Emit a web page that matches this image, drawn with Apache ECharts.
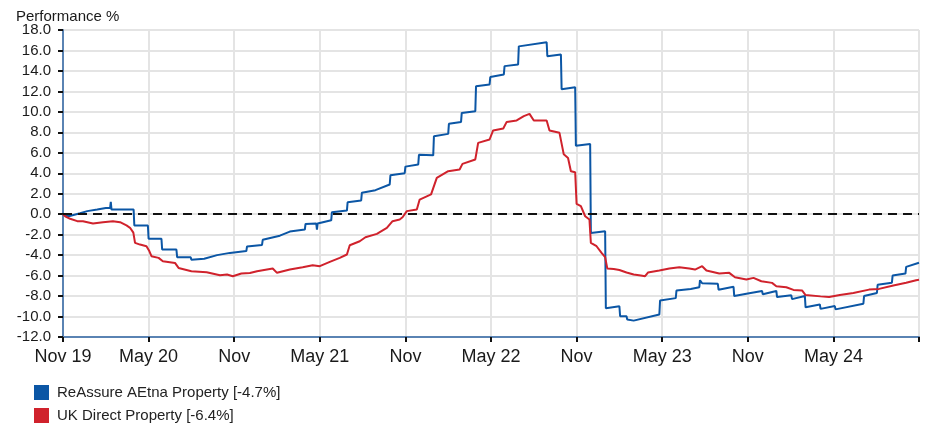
<!DOCTYPE html>
<html>
<head>
<meta charset="utf-8">
<script src="https://cdn.jsdelivr.net/npm/echarts@6/dist/echarts.min.js"></script>
<style>
html,body{margin:0;padding:0;background:#fff;}
#chart{width:930px;height:427px;}
</style>
</head>
<body>
<div id="chart"></div>
<script>
// x values are months elapsed since 1 Nov 2019
const xTickLabels = ['Nov 19','May 20','Nov','May 21','Nov','May 22','Nov','May 23','Nov','May 24',''];
const yTitle = 'Performance %';
const seriesNames = ['ReAssure AEtna Property [-4.7%]', 'UK Direct Property [-6.4%]'];

const blueMonths = [0,0.4,1.2,1.7,2.4,3.0,3.3,3.35,3.4,3.9,4.0,4.1,4.95,5.0,5.95,6.0,6.9,6.95,7.95,8.0,8.95,9.0,9.9,10.8,11.7,12.85,12.9,13.95,14.0,15.2,15.9,16.95,17.0,17.75,17.8,17.85,18.8,18.85,19.9,19.95,20.9,20.95,21.9,22.0,22.9,22.95,23.95,24.0,24.9,24.95,25.95,26.0,27.0,27.05,27.9,27.95,28.9,28.95,29.9,29.95,30.9,30.95,31.9,31.95,33.9,33.95,34.9,34.95,35.9,35.95,36.95,37.0,38.0,38.05,39.0,39.05,39.5,39.55,40.0,41.8,41.85,42.95,43.0,44.0,44.6,44.65,44.8,45.9,45.95,47.0,47.05,48.0,48.05,49.0,49.05,50.0,50.05,51.05,51.1,52.0,52.05,53.05,53.1,54.1,54.15,56.1,56.15,57.05,57.1,58.1,58.15,59.05,59.1,60];
const blueValues = [0,-0.2,0.1,0.3,0.45,0.6,0.6,1.2,0.45,0.45,0.3,0.45,0.45,-1.1,-1.1,-2.4,-2.4,-3.45,-3.45,-4.2,-4.2,-4.45,-4.35,-4.0,-3.78,-3.6,-3.15,-3.0,-2.5,-2.1,-1.7,-1.5,-0.95,-0.9,-1.5,-0.9,-0.6,0.2,0.35,1.17,1.34,2.1,2.35,2.45,2.9,3.8,4.0,4.65,4.86,5.8,5.75,7.62,7.85,8.83,9.02,9.9,10.07,12.5,12.68,13.4,13.65,14.47,14.63,16.4,16.8,15.44,15.6,12.2,12.4,6.7,6.87,-1.83,-1.66,-9.2,-9.0,-9.97,-9.97,-10.3,-10.4,-9.8,-8.44,-8.2,-7.46,-7.3,-7.14,-6.45,-6.75,-6.8,-7.38,-7.1,-8.0,-7.75,-7.7,-7.5,-7.82,-7.5,-8.1,-7.93,-8.3,-8.0,-9.1,-8.82,-9.25,-8.98,-9.3,-8.75,-8.0,-7.7,-6.9,-6.7,-6.0,-5.8,-5.15,-4.75];

const redMonths = [0,0.15,0.5,1.0,1.4,2.1,2.8,3.5,4.0,4.45,4.7,4.93,5.05,5.4,5.85,6.05,6.2,6.7,7.0,7.85,8.1,9.0,10.07,11.0,11.5,11.9,12.5,13.1,13.6,14.7,15.0,15.9,16.8,17.5,18.0,18.7,19.4,19.9,20.1,20.8,21.2,22.0,22.7,23.1,23.6,23.8,24.1,24.8,25.0,25.8,26.2,27.0,27.8,28.0,28.9,29.1,29.9,30.15,30.86,31.1,31.8,32.3,32.7,33.0,33.9,34.1,34.8,35.1,35.4,35.6,35.9,36.0,36.3,36.6,36.9,37.0,37.4,37.75,38.0,38.15,38.6,39.0,39.5,40.0,40.5,40.8,41.0,41.8,42.5,43.2,43.9,44.3,44.8,45.1,46.0,46.7,47.1,47.9,48.4,48.95,49.7,50.0,50.7,51.2,51.8,52.05,53.1,53.7,54.45,55.4,56.5,57.2,58.2,59.1,59.8,60];
const redValues = [0,-0.2,-0.45,-0.68,-0.68,-0.91,-0.78,-0.68,-0.78,-1.1,-1.33,-1.8,-2.8,-2.97,-3.13,-3.6,-4.1,-4.27,-4.6,-4.76,-5.25,-5.57,-5.67,-5.96,-5.9,-6.06,-5.8,-5.75,-5.57,-5.3,-5.73,-5.4,-5.18,-4.98,-5.08,-4.66,-4.27,-3.94,-3.03,-2.64,-2.25,-1.92,-1.34,-0.68,-0.52,-0.3,0.3,0.46,1.43,1.93,3.55,4.2,4.37,4.92,5.35,6.97,7.3,8.18,8.38,9.02,9.16,9.58,9.8,9.16,9.16,8.18,7.95,5.85,5.5,4.2,4.1,1.0,0.78,-0.2,-0.52,-2.8,-3.13,-3.78,-4.2,-5.3,-5.35,-5.45,-5.7,-5.9,-6.0,-6.06,-5.7,-5.5,-5.3,-5.18,-5.31,-5.41,-5.08,-5.5,-5.8,-5.73,-6.16,-6.39,-6.22,-6.55,-6.71,-7.04,-7.14,-7.4,-7.45,-7.9,-8.03,-8.1,-7.9,-7.7,-7.37,-7.3,-6.96,-6.7,-6.45,-6.4];

const FONT = 'Liberation Sans, Arial, Helvetica, sans-serif';
const legendText = {fontSize: 15, color: '#222', fontFamily: FONT, padding: [0,0,0,3]};
const chart = echarts.init(document.getElementById('chart'), null, {renderer: 'canvas'});
chart.setOption({
  animation: false,
  backgroundColor: '#ffffff',
  textStyle: {fontFamily: FONT},
  title: {
    text: yTitle, left: 11, top: 4,
    textStyle: {fontSize: 15, fontWeight: 'normal', color: '#1a1a1a', fontFamily: FONT}
  },
  legend: [
    {left: 29, top: 380, itemWidth: 15, itemHeight: 15, icon: 'rect', textStyle: legendText, data: [seriesNames[0]]},
    {left: 29, top: 403, itemWidth: 15, itemHeight: 15, icon: 'rect', textStyle: legendText, data: [seriesNames[1]]}
  ],
  grid: {left: 63, right: 11, top: 30, bottom: 90, containLabel: false},
  xAxis: {
    type: 'value', min: 0, max: 60, interval: 6,
    axisLine: {show: true, onZero: false, lineStyle: {color: '#5a83b3', width: 2}},
    axisTick: {show: true, length: 5, lineStyle: {color: '#111', width: 2}},
    axisLabel: {
      fontSize: 18, color: '#1a1a1a', margin: 11, fontFamily: FONT,
      formatter: function (v) { return xTickLabels[Math.round(v / 6)] || ''; }
    },
    splitLine: {show: true, lineStyle: {color: '#e4e4e4', width: 2}}
  },
  yAxis: {
    type: 'value', min: -12, max: 18, interval: 2,
    axisLine: {show: true, onZero: false, lineStyle: {color: '#5a83b3', width: 2}},
    axisTick: {show: true, length: 5, lineStyle: {color: '#111', width: 2}},
    axisLabel: {
      fontSize: 15, color: '#1a1a1a', margin: 12, fontFamily: FONT,
      formatter: function (v) { return v.toFixed(1); }
    },
    splitLine: {show: true, lineStyle: {color: '#e4e4e4', width: 2}}
  },
  series: [
    {
      name: seriesNames[0], type: 'line', showSymbol: false, symbol: 'none',
      color: '#0b56a5', lineStyle: {width: 2, color: '#0b56a5'},
      data: blueMonths.map((m, i) => [m, blueValues[i]]),
      markLine: {
        silent: true, symbol: ['none', 'none'], label: {show: false},
        lineStyle: {color: '#111', width: 2, type: [9, 6]},
        data: [{yAxis: 0}]
      }
    },
    {
      name: seriesNames[1], type: 'line', showSymbol: false, symbol: 'none',
      color: '#d0222c', lineStyle: {width: 2, color: '#d0222c'},
      data: redMonths.map((m, i) => [m, redValues[i]])
    }
  ]
});
</script>
</body>
</html>
